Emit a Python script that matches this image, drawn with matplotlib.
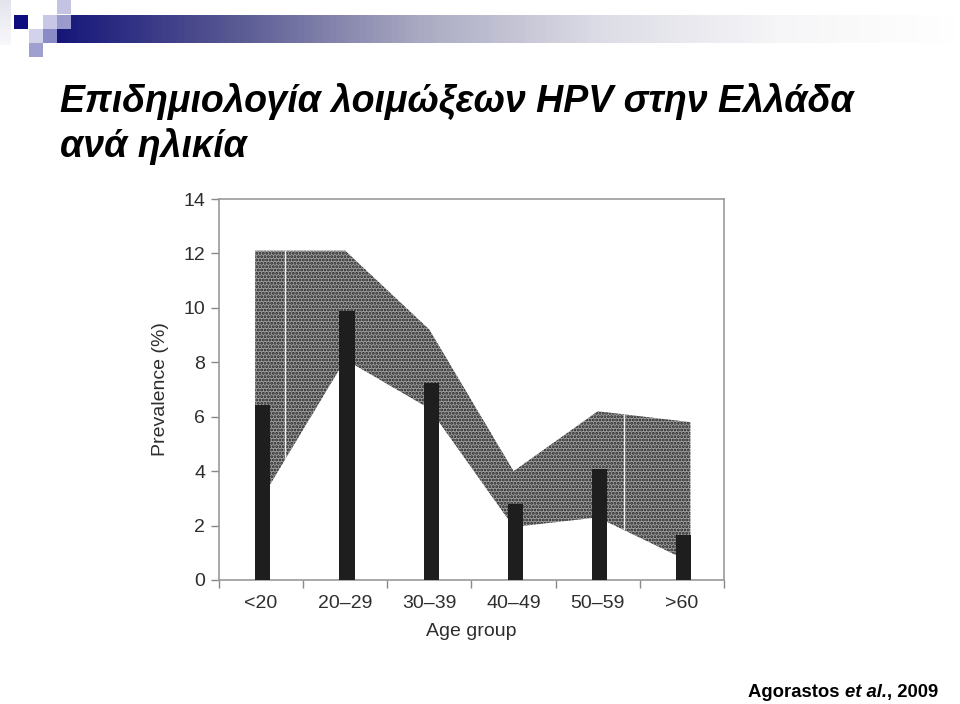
import numpy as np
import matplotlib
matplotlib.use("Agg")
import matplotlib.pyplot as plt
from matplotlib.colors import LinearSegmentedColormap
from matplotlib.patches import Rectangle

# Δεδομένα (εκτίμηση από την εικόνα)
age_groups = ["<20", "20\u201329", "30\u201339", "40\u201349", "50\u201359", ">60"]
prevalence = [6.43, 9.9, 7.24, 2.79, 4.08, 1.65]

# ζώνη διαστήματος εμπιστοσύνης
band_x = [-0.07, 1, 2, 3, 4, 5.1]
band_upper = [12.1, 12.1, 9.2, 4.0, 6.2, 5.8]
band_lower = [2.6, 8.1, 6.3, 1.95, 2.3, 0.66]

title_line1 = "Επιδημιολογία λοιμώξεων HPV στην Ελλάδα"
title_line2 = "ανά ηλικία"

fig = plt.figure(figsize=(9.6, 7.04), dpi=100)

# --- διακοσμητικά στοιχεία πάνω αριστερά ---
deco = fig.add_axes([0, 0, 1, 1], zorder=-1)
deco.set_xlim(0, 960)
deco.set_ylim(704, 0)
deco.axis("off")
grad = LinearSegmentedColormap.from_list("bar", ["#16167a", "#5a5a94", "#a9a9c2", "#dcdce6", "#f6f6f8", "#ffffff"])
deco.imshow(np.linspace(0, 1, 256)[None, :], cmap=grad, aspect="auto",
            extent=(57, 960, 43, 15))
deco.imshow(np.linspace(0, 1, 64)[:, None], cmap=LinearSegmentedColormap.from_list("p", ["#e4e4ee", "#f8f8fb"]),
            aspect="auto", extent=(0, 11, 45, 0))
squares = [
    (14, 15, "#0d0d80"), (43, 15, "#c8c8e6"), (57, 0, "#c4c4e2"), (57, 15, "#9a9acc"),
    (29, 29, "#d2d2ea"), (43, 29, "#8a8ac6"), (29, 43, "#a0a0d0"),
]
for sx, sy, c in squares:
    deco.add_patch(Rectangle((sx, sy), 14, 14, color=c, lw=0))

# --- τίτλος ---
fig.text(60, 704 - 112, title_line1, transform=None, fontsize=27, fontweight="bold",
         fontstyle="italic", family="Liberation Sans", color="black")
fig.text(60, 704 - 157, title_line2, transform=None, fontsize=27, fontweight="bold",
         fontstyle="italic", family="Liberation Sans", color="black")

# --- γράφημα ---
ax = fig.add_axes([219 / 960, 1 - 580 / 704, (724 - 219) / 960, (580 - 199) / 704])
x = np.arange(len(age_groups))

plt.rcParams["hatch.linewidth"] = 1.4
band = ax.fill_between(band_x, band_lower, band_upper, facecolor="#a0a0a0",
                       edgecolor="#1e1e1e", hatch=".....", linewidth=0, zorder=1)
for vx in [0.29, 4.31]:
    ln = ax.axvline(vx, color="#eeeeee", lw=1.0, zorder=2)
    ln.set_clip_path(band.get_paths()[0], ax.transData)

ax.bar(x + 0.02, prevalence, width=0.18, color="#1e1e1e", zorder=3)

ax.set_xlim(-0.5, 5.5)
ax.set_ylim(0, 14)
ax.set_yticks(np.arange(0, 15, 2))
ax.set_xticks(x)
ax.set_xticklabels(age_groups)
ax.set_xticks(np.arange(-0.5, 6, 1), minor=True)
ax.tick_params(axis="x", which="major", length=0, pad=11, labelsize=14, labelcolor="#2e2e2e")
ax.tick_params(axis="x", which="minor", length=6, width=1, color="#888888")
ax.tick_params(axis="y", length=6, width=1, color="#888888", labelsize=14,
               labelcolor="#2e2e2e", pad=4)
for lab in ax.get_xticklabels() + ax.get_yticklabels():
    lab.set_family("Liberation Sans")
for s in ax.spines.values():
    s.set_color("#999999")
    s.set_linewidth(1.2)

ax.set_xlabel("Age group", fontsize=14, color="#2e2e2e", family="Liberation Sans", labelpad=8)
ax.set_ylabel("Prevalence (%)", fontsize=14, color="#2e2e2e", family="Liberation Sans", labelpad=10)

# --- πηγή ---
fig.canvas.draw()
r = fig.canvas.get_renderer()
t1 = fig.text(748, 704 - 697, "Agorastos ", transform=None, fontsize=13.3, fontweight="bold",
              family="Liberation Sans")
e1 = t1.get_window_extent(r)
t2 = fig.text(e1.x1, 704 - 697, "et al.", transform=None, fontsize=13.3, fontweight="bold",
              fontstyle="italic", family="Liberation Sans")
e2 = t2.get_window_extent(r)
fig.text(e2.x1, 704 - 697, ", 2009", transform=None, fontsize=13.3, fontweight="bold",
         family="Liberation Sans")

fig.savefig("out.png", dpi=100)
